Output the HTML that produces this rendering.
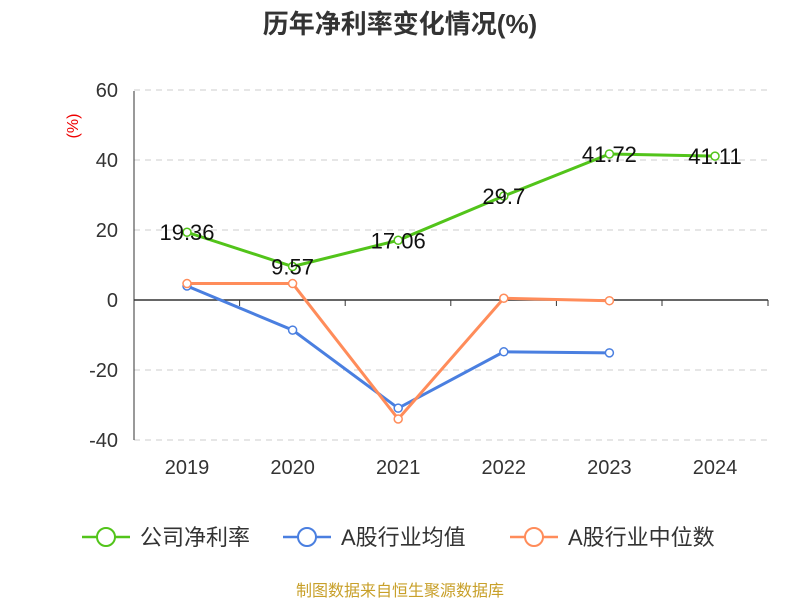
<!DOCTYPE html>
<html><head><meta charset="utf-8"><style>
body{margin:0;background:#fff;}
svg text{font-family:"Liberation Sans","Noto Sans CJK SC",sans-serif;}
</style></head><body>
<svg width="800" height="600" xmlns="http://www.w3.org/2000/svg">
<text x="400" y="33" text-anchor="middle" font-size="26" font-weight="bold" fill="#333">历年净利率变化情况(%)</text>
<text x="78" y="126" font-size="16" fill="#e00" transform="rotate(-90 78 126)" text-anchor="middle">(%)</text>
<g id="grid"></g><g id="series"></g>
<g font-size="22" fill="#333">
<g><line x1="82" y1="537" x2="130" y2="537" stroke="#52c41a" stroke-width="2.5"/><circle cx="106" cy="537" r="9" fill="#fff" stroke="#52c41a" stroke-width="2"/><text x="140" y="545">公司净利率</text></g>
<g><line x1="283" y1="537" x2="331" y2="537" stroke="#4a7fe0" stroke-width="2.5"/><circle cx="307" cy="537" r="9" fill="#fff" stroke="#4a7fe0" stroke-width="2"/><text x="341" y="545">A股行业均值</text></g>
<g><line x1="510" y1="537" x2="558" y2="537" stroke="#ff8c5a" stroke-width="2.5"/><circle cx="534" cy="537" r="9" fill="#fff" stroke="#ff8c5a" stroke-width="2"/><text x="568" y="545">A股行业中位数</text></g>
</g>
<text x="400" y="596" text-anchor="middle" font-size="16" fill="#c8a02a">制图数据来自恒生聚源数据库</text>
</svg>
<script>
const categories=["2019","2020","2021","2022","2023","2024"];
const netMargin=[19.36,9.57,17.06,29.7,41.72,41.11];
const industryAvg=[4.0,-8.6,-30.9,-14.8,-15.1];
const industryMedian=[4.7,4.7,-34.0,0.5,-0.2];
const yTicks=[60,40,20,0,-20,-40];
const ns="http://www.w3.org/2000/svg";
const X=i=>187+i*105.6, Y=v=>300-v*3.5;
function mk(p,t,a){const e=document.createElementNS(ns,t);for(const k in a)e.setAttribute(k,a[k]);p.appendChild(e);return e;}
const g=document.getElementById('grid'), s=document.getElementById('series');
yTicks.forEach(v=>{
 if(v!==0){const l=mk(g,'line',{x1:134,x2:768,y1:Y(v),y2:Y(v),stroke:'#ccc','stroke-dasharray':'6,5'});
 
 }
 const t=mk(g,'text',{x:118,y:Y(v)+7,'text-anchor':'end','font-size':20,fill:'#333'});t.textContent=v;
 
 
});
const ax=mk(g,'line',{x1:134,x2:768,y1:300,y2:300,stroke:'#333','stroke-width':1.5});


const yax=mk(g,'line',{x1:134,x2:134,y1:91,y2:440,stroke:'#333','stroke-width':1});


categories.forEach((c,i)=>{
 const tk=mk(g,'line',{x1:134+i*105.6+(i>0?0:0),x2:134+i*105.6,y1:300,y2:306,stroke:'#333'});
 
 
 const t=mk(g,'text',{x:X(i),y:474,'text-anchor':'middle','font-size':20,fill:'#333'});t.textContent=c;
 
 
});
mk(g,'line',{x1:768,x2:768,y1:300,y2:306,stroke:'#333'});
function series(data,color,name,labels){
 const pl=mk(s,'polyline',{points:data.map((v,i)=>X(i)+','+Y(v)).join(' '),fill:'none',stroke:color,'stroke-width':3});
 
 
 data.forEach((v,i)=>{
  const c=mk(s,'circle',{cx:X(i),cy:Y(v),r:4,fill:'#fff',stroke:color,'stroke-width':1.5});
  
  
  if(labels){const t=mk(s,'text',{x:X(i),y:Y(v)+8,'text-anchor':'middle','font-size':22,fill:'#111'});t.textContent=v;
  
  }
 });
}
series(industryAvg,'#4a7fe0','industry-avg',false);
series(industryMedian,'#ff8c5a','industry-median',false);
series(netMargin,'#52c41a','net-margin',true);
</script>
</body></html>
